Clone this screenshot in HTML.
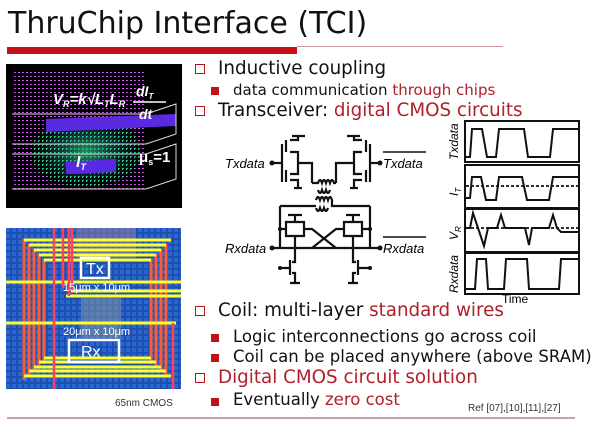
<!DOCTYPE html>
<html><head><meta charset="utf-8"><style>
body{margin:0;width:600px;height:423px;background:#fff;position:relative;overflow:hidden;font-family:"DejaVu Sans","Liberation Sans",sans-serif}
.t{position:absolute;white-space:nowrap;color:#111}
.r{color:#b0202a}
.hb{position:absolute;width:10px;height:10px;border:1.6px solid #c01018;box-sizing:border-box}
.fb{position:absolute;width:8px;height:8px;background:#c01018}
</style></head><body>
<div class="t" style="left:8px;top:6px;font-size:30px;">ThruChip Interface (TCI)</div>
<div style="position:absolute;left:7px;top:47px;width:290px;height:7px;background:#c8101a"></div>
<div style="position:absolute;left:297px;top:46px;width:206px;height:1px;background:#c99"></div>

<!-- top image -->
<svg style="position:absolute;left:6px;top:64px" width="176" height="144" viewBox="0 0 176 144">
<rect width="176" height="144" fill="#000"/>
<defs><pattern id="p" width="4" height="4" patternUnits="userSpaceOnUse"><rect width="2" height="1" fill="#c050e0"/></pattern>
<pattern id="g" width="4" height="4" patternUnits="userSpaceOnUse"><rect width="1" height="2" fill="#30c080"/></pattern>
<radialGradient id="rg"><stop offset="0" stop-color="#30d080"/><stop offset="1" stop-color="#3060c0" stop-opacity="0"/></radialGradient></defs>
<rect x="8" y="6" width="130" height="120" fill="url(#p)"/>
<ellipse cx="80" cy="88" rx="55" ry="35" fill="url(#rg)" opacity="0.7"/>
<ellipse cx="80" cy="88" rx="55" ry="35" fill="url(#g)"/>
<polygon points="40,55 170,50 170,62 40,68" fill="#5a2ae0"/>
<polygon points="60,98 110,95 110,108 60,110" fill="#5a2ae0"/>
<polyline points="6,50 140,50 170,40 170,70 140,80 6,80" fill="none" stroke="#ddd"/>
<polyline points="6,90 140,90 170,80 170,115 140,125 6,125" fill="none" stroke="#ddd"/>
<text x="47" y="40" font-family="Liberation Sans" font-weight="bold" font-style="italic" font-size="15" fill="#fff">V<tspan font-size="9" dy="3">R</tspan><tspan dy="-3">=k√L</tspan><tspan font-size="9" dy="3">T</tspan><tspan dy="-3">L</tspan><tspan font-size="9" dy="3">R</tspan></text>
<text x="130" y="32" font-family="Liberation Sans" font-weight="bold" font-style="italic" font-size="14" fill="#fff">dI<tspan font-size="8" dy="3">T</tspan></text>
<line x1="127" y1="38" x2="160" y2="38" stroke="#fff" stroke-width="1.5"/>
<text x="133" y="55" font-family="Liberation Sans" font-weight="bold" font-style="italic" font-size="14" fill="#fff">dt</text>
<text x="133" y="98" font-family="Liberation Sans" font-weight="bold" font-size="15" fill="#fff">μ<tspan font-size="9" dy="3">s</tspan><tspan dy="-3">=1</tspan></text>
<text x="70" y="103" font-family="Liberation Sans" font-weight="bold" font-style="italic" font-size="16" fill="#fff">I<tspan font-size="9" dy="3">T</tspan></text>
</svg>

<!-- bottom image -->
<svg style="position:absolute;left:6px;top:228px" width="175" height="161" viewBox="0 0 175 161">
<defs><pattern id="b" width="6" height="6" patternUnits="userSpaceOnUse"><rect width="6" height="6" fill="#1d4fb0"/><rect width="4" height="4" fill="#2a66d0"/></pattern></defs>
<rect width="175" height="161" fill="url(#b)"/>
<rect x="70" y="0" width="60" height="30" fill="#8a7aa0" opacity="0.6"/>
<rect x="75" y="70" width="40" height="40" fill="#7a90a0" opacity="0.6"/>
<g stroke="#ff5a30" stroke-width="3" fill="none">
<path d="M18,152 V12 H165"/><path d="M23,148 V17 H160 V148"/><path d="M28,144 V22 H155 V144"/><path d="M33,140 V27 H150 V140"/><path d="M38,136 V32 H145 V136"/>
</g>
<g stroke="#ffff30" stroke-width="3">
<line x1="18" y1="12" x2="165" y2="12"/><line x1="23" y1="17" x2="160" y2="17"/><line x1="28" y1="22" x2="155" y2="22"/><line x1="33" y1="27" x2="150" y2="27"/><line x1="38" y1="32" x2="145" y2="32"/>
<line x1="0" y1="54" x2="175" y2="54"/><line x1="65" y1="63" x2="175" y2="63"/><line x1="60" y1="68" x2="175" y2="68"/>
<line x1="0" y1="95" x2="170" y2="95"/>
<line x1="38" y1="130" x2="145" y2="130"/><line x1="33" y1="134" x2="150" y2="134"/><line x1="28" y1="139" x2="155" y2="139"/><line x1="23" y1="143" x2="160" y2="143"/><line x1="18" y1="148" x2="165" y2="148"/>
</g>
<g stroke="#ff4060" stroke-width="2.5"><line x1="48" y1="0" x2="48" y2="161"/><line x1="57" y1="0" x2="57" y2="60"/><line x1="63" y1="0" x2="63" y2="68"/><line x1="66" y1="0" x2="66" y2="63"/><line x1="167" y1="95" x2="167" y2="161"/></g>
<rect x="75" y="30" width="28" height="20" fill="none" stroke="#fff" stroke-width="2.5"/>
<text x="80" y="46" font-family="Liberation Sans" font-size="16" fill="#fff">Tx</text>
<text x="57" y="63" font-family="Liberation Sans" font-size="11" fill="#fff">15μm x 10μm</text>
<text x="57" y="107" font-family="Liberation Sans" font-size="11" fill="#fff">20μm x 10μm</text>
<rect x="63" y="112" width="50" height="22" fill="none" stroke="#fff" stroke-width="2.5"/>
<text x="75" y="129" font-family="Liberation Sans" font-size="16" fill="#fff">Rx</text>
</svg>
<div class="t" style="left:115px;top:398px;font-size:10px;font-family:'Liberation Sans';color:#333">65nm CMOS</div>

<!-- bullets -->
<div class="hb" style="left:195px;top:64px"></div><div class="t" style="left:218px;top:58px;font-size:18.3px">Inductive coupling</div>
<div class="fb" style="left:211px;top:87px"></div><div class="t" style="left:233px;top:81px;font-size:15px">data communication <span class="r">through chips</span></div>
<div class="hb" style="left:195px;top:106px"></div><div class="t" style="left:218px;top:100px;font-size:18.3px">Transceiver: <span class="r">digital CMOS circuits</span></div>

<div class="hb" style="left:195px;top:306px"></div><div class="t" style="left:218px;top:300px;font-size:18.3px">Coil: multi-layer <span class="r">standard wires</span></div>
<div class="fb" style="left:211px;top:334px"></div><div class="t" style="left:233px;top:327px;font-size:16.5px">Logic interconnections go across coil</div>
<div class="fb" style="left:211px;top:354px"></div><div class="t" style="left:233px;top:347px;font-size:16.5px">Coil can be placed anywhere (above SRAM)</div>
<div class="hb" style="left:195px;top:373px"></div><div class="t r" style="left:218px;top:367px;font-size:18.3px">Digital CMOS circuit solution</div>
<div class="fb" style="left:211px;top:398px"></div><div class="t" style="left:233px;top:390px;font-size:16.5px">Eventually <span class="r">zero cost</span></div>
<div class="t" style="left:468px;top:403px;font-size:10px;font-family:'Liberation Sans';color:#333">Ref [07],[10],[11],[27]</div>
<div style="position:absolute;left:7px;top:417px;width:568px;height:2px;background:#c9a0a8"></div>

<!-- circuit -->
<svg style="position:absolute;left:200px;top:120px" width="400" height="185" viewBox="200 120 400 185" font-family="Liberation Sans" font-style="italic">
<g stroke="#111" stroke-width="2.2" fill="none">
<line x1="272" y1="163" x2="282" y2="163"/><line x1="282" y1="144" x2="282" y2="182"/>
<line x1="286" y1="140" x2="286" y2="152"/><line x1="286" y1="170" x2="286" y2="182"/>
<path d="M292,136 H305 M298,136 V140 H290 M290,152 H298 V174 H290 M290,180 H298 V188"/>
<path d="M298,163 H312 V183"/><path d="M294,188 H302"/>
<line x1="380" y1="163" x2="370" y2="163"/><line x1="370" y1="144" x2="370" y2="182"/>
<line x1="366" y1="140" x2="366" y2="152"/><line x1="366" y1="170" x2="366" y2="182"/>
<path d="M347,136 H360 M354,136 V140 H362 M362,152 H354 V174 H362 M362,180 H354 V188"/>
<path d="M354,163 H336 V183"/><path d="M350,188 H358"/>
<path d="M312,183 H318 q2,-6 4,0 q2,-6 4,0 q2,-6 4,0 q2,-6 4,0 H336"/>
<path d="M318,190 q2,6 4,0 q2,6 4,0 q2,6 4,0"/>
<path d="M316,200 q2,-6 4,0 q2,-6 4,0 q2,-6 4,0 q2,-6 4,0"/>
<path d="M280,206 H316 M332,200 V206 H370"/>
<path d="M316,208 q2,6 4,0 q2,6 4,0 q2,6 4,0"/>
<path d="M280,206 V248 M370,206 V248"/>
<path d="M272,248 H380"/>
<path d="M288,215 H302 M295,215 V222 M286,222 H304 V236 H286 Z"/>
<path d="M346,215 H360 M353,215 V222 M344,222 H362 V236 H344 Z"/>
<path d="M295,236 V258 M353,236 V258"/>
<path d="M304,229 H312 L336,248 M344,229 H336 L312,248"/>
<path d="M280,229 H286 M370,229 H362"/>
<line x1="290" y1="260" x2="290" y2="275"/><path d="M295,258 V262 H292 M292,273 H295 V283 M290,283 H300"/>
<line x1="358" y1="260" x2="358" y2="275"/><path d="M353,258 V262 H356 M356,273 H353 V283 M348,283 H358"/>
<path d="M280,268 H290 M370,268 H358"/>
</g>
<g fill="#111"><circle cx="272" cy="163" r="2.5"/><circle cx="380" cy="163" r="2.5"/><circle cx="272" cy="248" r="2.5"/><circle cx="380" cy="248" r="2.5"/><circle cx="280" cy="229" r="2"/><circle cx="370" cy="229" r="2"/><circle cx="280" cy="268" r="2"/><circle cx="370" cy="268" r="2"/></g>
<text x="225" y="168" font-size="13">Txdata</text>
<text x="383" y="168" font-size="13">Txdata</text><line x1="383" y1="152" x2="426" y2="152" stroke="#111" stroke-width="1.5"/>
<text x="225" y="253" font-size="13">Rxdata</text>
<text x="383" y="253" font-size="13">Rxdata</text><line x1="383" y1="237" x2="426" y2="237" stroke="#111" stroke-width="1.5"/>
<g stroke="#111" stroke-width="2" fill="none">
<rect x="465" y="121" width="114" height="41"/><rect x="465" y="165" width="114" height="43"/><rect x="465" y="209" width="114" height="43"/><rect x="465" y="253" width="114" height="41"/>
<path d="M466,157 H470 L472,129 H482 L487,157 H496 L499,129 H524 L528,157 H550 L553,129 H578"/>
<path d="M466,198 H470 L472,177 H481 L486,200 H496 L499,177 H522 L527,200 H549 L553,177 H578"/>
<path d="M466,228 H470 L473,213 L478,228 L484,246 L488,228 H497 L501,215 L505,228 H525 L529,245 L532,228 H549 L553,215 L557,228 L561,232 H578"/>
<path d="M466,289 H475 L477,259 H486 L488,289 H504 L506,259 H527 L529,289 H559 L561,259 H578"/>
</g>
<g stroke="#111" stroke-width="1.8" stroke-dasharray="3,2"><line x1="466" y1="186" x2="578" y2="186"/><line x1="466" y1="228" x2="578" y2="228"/></g>
<g font-size="12">
<text transform="translate(458,160) rotate(-90)">Txdata</text>
<text transform="translate(458,196) rotate(-90)">I<tspan font-size="8" dy="3">T</tspan></text>
<text transform="translate(458,240) rotate(-90)">V<tspan font-size="8" dy="3">R</tspan></text>
<text transform="translate(458,293) rotate(-90)">Rxdata</text>
</g>
<text x="502" y="303" font-size="12" font-style="normal">Time</text>
</svg>
</body></html>
